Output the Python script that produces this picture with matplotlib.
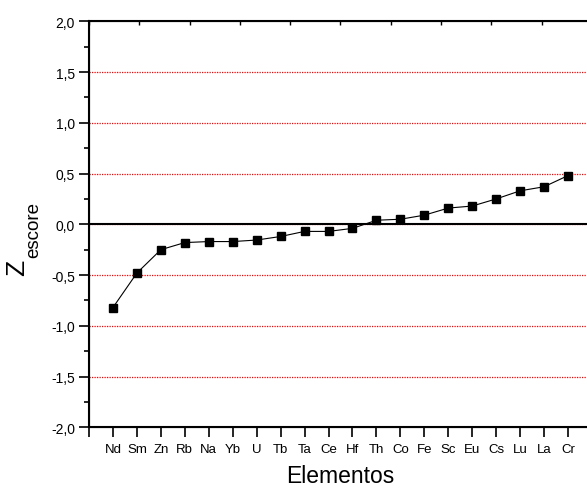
import matplotlib
matplotlib.use("Agg")
import matplotlib.pyplot as plt
from matplotlib.ticker import MultipleLocator, FuncFormatter

plt.rcParams.update({
    "font.family": "Liberation Sans",
})

# Data
elements = ["Nd", "Sm", "Zn", "Rb", "Na", "Yb", "U", "Tb", "Ta", "Ce",
            "Hf", "Th", "Co", "Fe", "Sc", "Eu", "Cs", "Lu", "La", "Cr"]
z_scores = [-0.82, -0.48, -0.25, -0.18, -0.17, -0.17, -0.155, -0.12, -0.07, -0.07,
            -0.04, 0.04, 0.05, 0.09, 0.16, 0.18, 0.25, 0.33, 0.37, 0.48]
grid_levels = [-1.5, -1.0, -0.5, 0.0, 0.5, 1.0, 1.5]

x = list(range(1, len(elements) + 1))

fig = plt.figure(figsize=(5.87, 4.89), dpi=100)
ax = fig.add_axes([0.1516, 0.1241, 1.0085 - 0.1516, 0.9544 - 0.1241])

for lvl in grid_levels:
    ax.axhline(lvl, color="red", linestyle=(0, (1, 1)), linewidth=0.9, zorder=1)
ax.axhline(0.0, color="black", linewidth=1.5, zorder=2)

ax.plot(x, z_scores, color="black", linewidth=0.8, marker="s",
        markersize=6, markerfacecolor="black", markeredgecolor="black", zorder=3)

ax.set_xlim(0, 21)
ax.set_ylim(-2.0, 2.0)

ax.set_xticks([0] + x)
ax.set_xticklabels([""] + elements, fontsize=9.5)
ax.yaxis.set_major_locator(MultipleLocator(0.5))
ax.yaxis.set_minor_locator(MultipleLocator(0.25))
ax.yaxis.set_major_formatter(FuncFormatter(lambda v, p: f"{v:.1f}".replace(".", ",")))
ax.tick_params(axis="y", labelsize=10, direction="out", length=7, width=1.2, pad=3)
ax.tick_params(axis="y", which="minor", direction="out", length=3.5, width=1.2)
ax.tick_params(axis="x", direction="out", length=7, width=1.2, pad=4)

for s in ax.spines.values():
    s.set_linewidth(1.5)

# top axis ticks (secondary scale, inward)
top = ax.twiny()
top.set_xlim(0, 10)
top.xaxis.set_major_locator(MultipleLocator(1))
top.tick_params(axis="x", direction="in", length=3, width=1.0, labeltop=False)

ax.set_xlabel("Elementos", fontsize=16.5, labelpad=7)

# y label: Z with large subscript "escore"
fig.text(16.8 / 587, 1 - 268 / 489, "Z", rotation=90, fontsize=19,
         ha="center", va="center")
fig.text(33.5 / 587, 1 - 258 / 489, "escore", rotation=90, fontsize=13.5,
         ha="center", va="bottom")

fig.savefig("out.png", dpi=100)
